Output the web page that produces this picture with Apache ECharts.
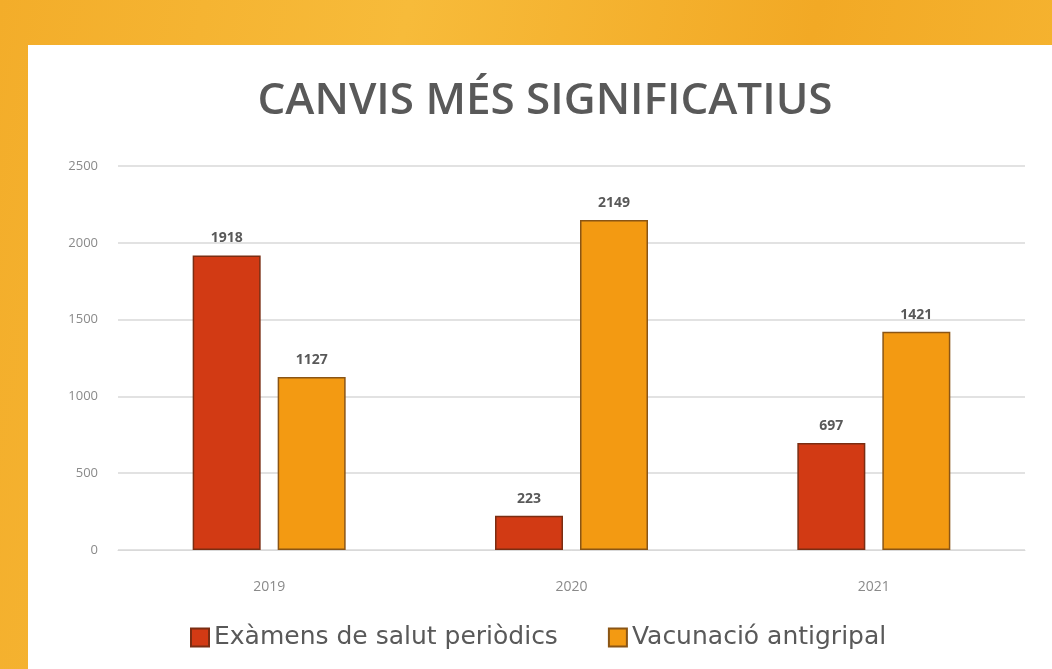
<!DOCTYPE html>
<head>
    <meta charset="utf-8">
    <title>ECharts</title>
    <style>
        html, body { margin: 0; padding: 0; }
        body {
            width: 1052px; height: 669px; overflow: hidden;
            background: linear-gradient(100deg, #f3ad2a 0%, #f7bb3a 35%, #f2a925 70%, #f6b633 100%);
        }
        #main { position: absolute; left: 0; top: 0; width: 1052px; height: 669px; }
    </style>
</head>
<body>
<div id="main"></div>
<script src="https://cdn.jsdelivr.net/npm/echarts@6/dist/echarts.min.js"></script>
<script type="text/javascript">
    // dades
    var anys = ['2019', '2020', '2021'];
    var examens = [1918, 223, 697];
    var vacunacio = [1127, 2149, 1421];
    var yTicks = [0, 500, 1000, 1500, 2000, 2500];

    var myChart = echarts.init(document.getElementById('main'));
    var etiqueta = {
        show: true,
        position: 'top',
        distance: 10,
        color: '#595959',
        fontSize: 14,
        fontWeight: 'bold',
        fontFamily: 'Open Sans'
    };
    myChart.setOption({
        backgroundColor: 'transparent',
        graphic: [{
            type: 'rect',
            z: -10,
            shape: { x: 28, y: 45, width: 1040, height: 640 },
            style: { fill: '#ffffff' }
        }],
        title: {
            text: 'CANVIS MÉS SIGNIFICATIUS',
            left: 540,
            textAlign: 'center',
            top: 74,
            textStyle: {
                color: '#595959',
                fontSize: 44,
                fontWeight: 600,
                fontFamily: 'Open Sans'
            }
        },
        legend: {
            top: 620,
            left: 185,
            itemWidth: 18,
            itemHeight: 18,
            itemGap: 50,
            icon: 'rect',
            textStyle: { color: '#595959', fontSize: 25, fontFamily: 'DejaVu Sans' },
            data: ['Exàmens de salut periòdics', 'Vacunació antigripal']
        },
        grid: { left: 118, right: 27, top: 166, bottom: 119 },
        xAxis: {
            type: 'category',
            data: anys,
            axisLine: { lineStyle: { color: '#d9d9d9' } },
            axisTick: { show: false },
            axisLabel: { color: '#8a8a8a', fontSize: 14, margin: 30, fontFamily: 'Open Sans' }
        },
        yAxis: {
            type: 'value',
            min: yTicks[0],
            max: yTicks[yTicks.length - 1],
            interval: 500,
            axisLine: { show: false },
            axisTick: { show: false },
            axisLabel: {
                color: '#8a8a8a', fontSize: 13, margin: 20, fontFamily: 'Open Sans',
                formatter: function (v) { return String(v); }
            },
            splitLine: { lineStyle: { color: '#d9d9d9', width: 1.5 } }
        },
        series: [{
            name: 'Exàmens de salut periòdics',
            type: 'bar',
            data: examens,
            barWidth: 68,
            barGap: '25%',
            itemStyle: { color: '#d23a14', borderColor: '#7a2d12', borderWidth: 1.5 },
            label: etiqueta
        }, {
            name: 'Vacunació antigripal',
            type: 'bar',
            data: vacunacio,
            barWidth: 68,
            itemStyle: { color: '#f39a12', borderColor: '#8a5515', borderWidth: 1.5 },
            label: etiqueta
        }]
    });
</script>
</body>
